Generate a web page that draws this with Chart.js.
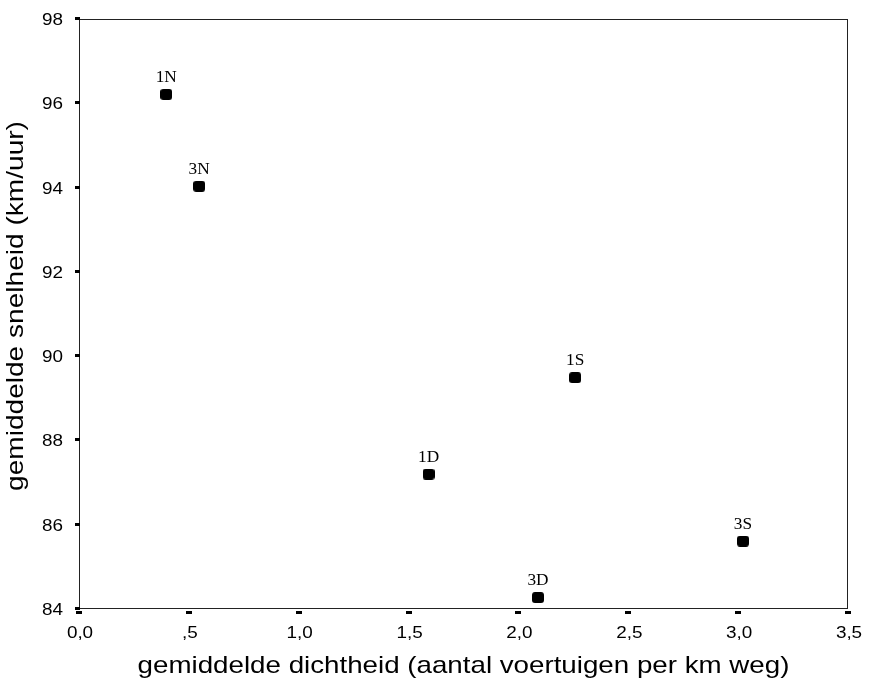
<!DOCTYPE html>
<html>
<head>
<meta charset="utf-8">
<script src="https://cdn.jsdelivr.net/npm/chart.js@4/dist/chart.umd.min.js"></script>
<style>
  html, body { margin: 0; padding: 0; background: #fff; }
  #wrap { width: 872px; height: 684px; }
</style>
</head>
<body>
<div id="wrap"><canvas id="c" width="872" height="684"></canvas></div>
<script>
// Wegvakken en hun gemiddelde dichtheid / snelheid
const pointLabels = ['1N', '3N', '1D', '1S', '3D', '3S'];
const density = [0.397, 0.547, 1.591, 2.258, 2.089, 3.022];
const speed = [96.21, 94.03, 87.20, 89.49, 84.27, 85.61];

const xTickValues = [0, 0.5, 1, 1.5, 2, 2.5, 3, 3.5];
const xTickText = ['0,0', ',5', '1,0', '1,5', '2,0', '2,5', '3,0', '3,5'];
const yTickValues = [84, 86, 88, 90, 92, 94, 96, 98];

const xTitle = 'gemiddelde dichtheid (aantal voertuigen per km weg)';
const yTitle = 'gemiddelde snelheid (km/uur)';

const points = density.map((x, i) => ({ x: x, y: speed[i] }));

const SANS = '"Liberation Sans", Arial, Helvetica, sans-serif';
const SERIF = '"Liberation Serif", "Times New Roman", serif';
const STRETCH = 1.18;   // breed lopende letters

// zwart afgerond blokje als markering
function makeMarker(w, h, r) {
  const c = document.createElement('canvas');
  c.width = w; c.height = h;
  const g = c.getContext('2d');
  g.fillStyle = '#000';
  g.beginPath();
  g.roundRect(0, 0, w, h, r);
  g.fill();
  return c;
}
const marker = makeMarker(12, 11, 3);

// tekst met horizontale rek, optioneel gedraaid
function stretchedText(ctx, text, x, y, opts) {
  ctx.save();
  ctx.translate(x, y);
  if (opts.rotate) ctx.rotate(opts.rotate);
  ctx.scale(opts.sx || 1, 1);
  ctx.font = opts.font;
  ctx.fillStyle = '#000';
  ctx.textAlign = opts.align || 'center';
  ctx.textBaseline = 'alphabetic';
  ctx.fillText(text, 0, 0);
  ctx.restore();
}

// kader rond het plotgebied
const frame = {
  id: 'frame',
  beforeDatasetsDraw(chart) {
    const a = chart.chartArea, ctx = chart.ctx;
    ctx.save();
    ctx.strokeStyle = '#222';
    ctx.lineWidth = 1;
    ctx.strokeRect(Math.round(a.left) + 0.5, Math.round(a.top) + 0.5,
                   Math.round(a.right - a.left) - 1, Math.round(a.bottom - a.top) - 1);
    ctx.restore();
  }
};

// streepjes, waarden en titels langs de assen
const axesText = {
  id: 'axesText',
  afterDraw(chart) {
    const ctx = chart.ctx;
    const xs = chart.scales.x, ys = chart.scales.y;
    const a = chart.chartArea;
    const left = Math.round(a.left), bottom = Math.round(a.bottom);
    ctx.save();
    ctx.fillStyle = '#000';
    yTickValues.forEach(v => {
      const py = ys.getPixelForValue(v);
      ctx.fillRect(left - 4, Math.round(py) - 2, 5, 3);
      stretchedText(ctx, String(v), left - 16, py + 6,
        { font: '16px ' + SANS, sx: STRETCH, align: 'right' });
    });
    xTickValues.forEach((v, i) => {
      const px = xs.getPixelForValue(v);
      ctx.fillRect(Math.round(px) - 3, bottom + 2, 6, 3);
      stretchedText(ctx, xTickText[i], px + 1, bottom + 29,
        { font: '16px ' + SANS, sx: STRETCH, align: 'center' });
    });
    stretchedText(ctx, xTitle, (a.left + a.right) / 2, 673,
      { font: '24px ' + SANS, sx: 1.155, align: 'center' });
    stretchedText(ctx, yTitle, 23, 306,
      { font: '24px ' + SANS, sx: 1.17, align: 'center', rotate: -Math.PI / 2 });
    ctx.restore();
  }
};

// naam van elk wegvak boven het punt
const names = {
  id: 'names',
  afterDatasetsDraw(chart) {
    const ctx = chart.ctx;
    const meta = chart.getDatasetMeta(0);
    meta.data.forEach((el, i) => {
      stretchedText(ctx, pointLabels[i], el.x, el.y - 12.5,
        { font: '16px ' + SERIF, sx: 1.08, align: 'center' });
    });
  }
};

new Chart(document.getElementById('c'), {
  type: 'scatter',
  data: {
    datasets: [{
      data: points,
      pointStyle: marker,
      pointRadius: 6,
      pointHoverRadius: 6,
      backgroundColor: '#000',
      borderColor: '#000',
      borderWidth: 0
    }]
  },
  options: {
    responsive: false,
    animation: false,
    events: [],
    layout: { padding: { top: 19, right: 24, left: 0, bottom: 0 } },
    plugins: { legend: { display: false }, tooltip: { enabled: false } },
    scales: {
      x: {
        type: 'linear',
        min: 0, max: 3.5,
        afterBuildTicks(scale) { scale.ticks = xTickValues.map(v => ({ value: v })); },
        afterFit(scale) { scale.height = 75; },
        border: { display: false },
        grid: { display: false, drawTicks: false },
        ticks: { display: false },
        title: { display: false }
      },
      y: {
        type: 'linear',
        min: 84, max: 98,
        afterBuildTicks(scale) { scale.ticks = yTickValues.map(v => ({ value: v })); },
        afterFit(scale) { scale.width = 79; },
        border: { display: false },
        grid: { display: false, drawTicks: false },
        ticks: { display: false },
        title: { display: false }
      }
    }
  },
  plugins: [frame, axesText, names]
});
</script>
</body>
</html>
